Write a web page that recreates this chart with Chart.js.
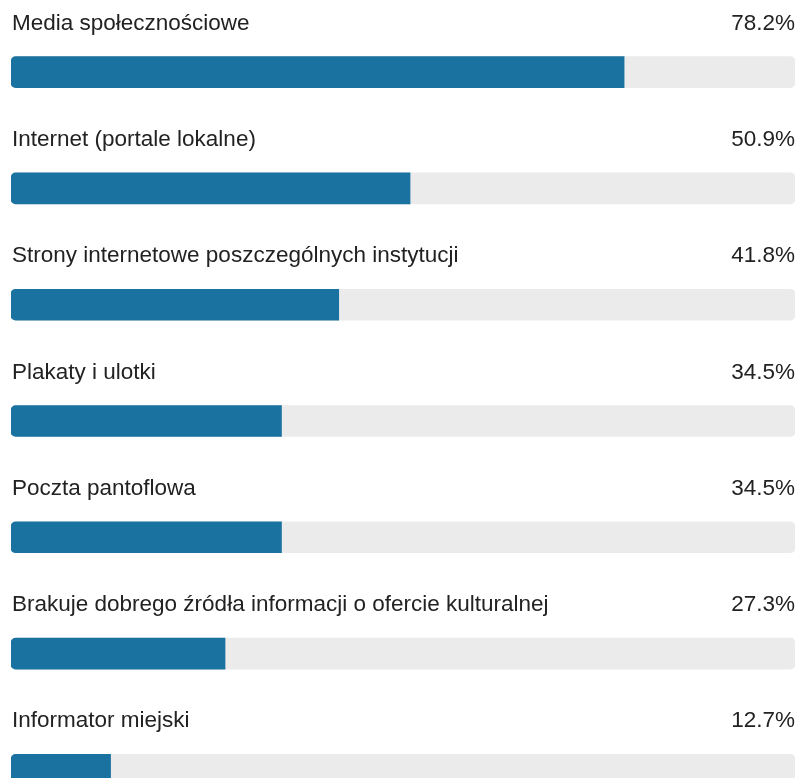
<!DOCTYPE html>
<html>
<head>
<meta charset="utf-8">
<script src="https://cdn.jsdelivr.net/npm/chart.js@4/dist/chart.umd.min.js"></script>
<style>
    html, body { margin: 0; padding: 0; background: #fff; overflow: hidden; }
    #barChart { display: block; }
</style>
</head>
<body>
<canvas id="barChart" width="797" height="840"></canvas>
<script>
// Categories (top to bottom)
const labels = [
    'Media społecznościowe',
    'Internet (portale lokalne)',
    'Strony internetowe poszczególnych instytucji',
    'Plakaty i ulotki',
    'Poczta pantoflowa',
    'Brakuje dobrego źródła informacji o ofercie kulturalnej',
    'Informator miejski'
];
// Share of answers in percent
const values = [78.2, 50.9, 41.8, 34.5, 34.5, 27.3, 12.7];
// Full track behind every bar
const trackValues = [100, 100, 100, 100, 100, 100, 100];
// Text shown on the right
const valueLabels = ['78.2%', '50.9%', '41.8%', '34.5%', '34.5%', '27.3%', '12.7%'];

window.onload = init

function init(){
    //Draws category name above each bar and the percent on the right.
    const textPlugin = {
        id: 'rowText',
        afterDatasetsDraw: function(chart){
            let ctx = chart.ctx;
            let area = chart.chartArea;
            let meta = chart.getDatasetMeta(0);
            ctx.save();
            ctx.font = '22.5px "Liberation Sans", Arial, sans-serif';
            ctx.fillStyle = '#222222';
            ctx.textBaseline = 'alphabetic';
            for (let i = 0; i < meta.data.length; i++){
                let bar = meta.data[i];
                let baseline = bar.y - bar.height / 2 - 27;
                ctx.textAlign = 'left';
                ctx.fillText(labels[i], area.left + 1, baseline);
                ctx.textAlign = 'right';
                ctx.fillText(valueLabels[i], area.right, baseline);
            }
            ctx.restore();
        }
    };

    const data = {
        labels: labels,
        datasets: [{
            label: 'Odpowiedzi',
            data: values,
            backgroundColor: '#1a72a0',
            borderSkipped: false,
            borderRadius: {topLeft: 5, bottomLeft: 5, topRight: 0, bottomRight: 0},
            barThickness: 31
        }, {
            label: 'Tło',
            data: trackValues,
            backgroundColor: '#ebebeb',
            borderSkipped: false,
            borderRadius: 5,
            barThickness: 31
        }]
    };

    const config = {
        type: 'bar',
        data,
        options: {
            indexAxis: 'y',
            responsive: false,
            animation: false,
            grouped: false,
            layout: {
                padding: {left: 11, right: 2, top: 14, bottom: 12}
            },
            plugins: {
                legend: { display: false },
                tooltip: { enabled: false }
            },
            scales: {
                x: { display: false, min: 0, max: 100 },
                y: { display: false }
            }
        },
        plugins: [textPlugin]
    };

    //Actual chart
    var myChart = new Chart(
        document.getElementById('barChart'),
        config
    );
}
</script>
</body>
</html>
